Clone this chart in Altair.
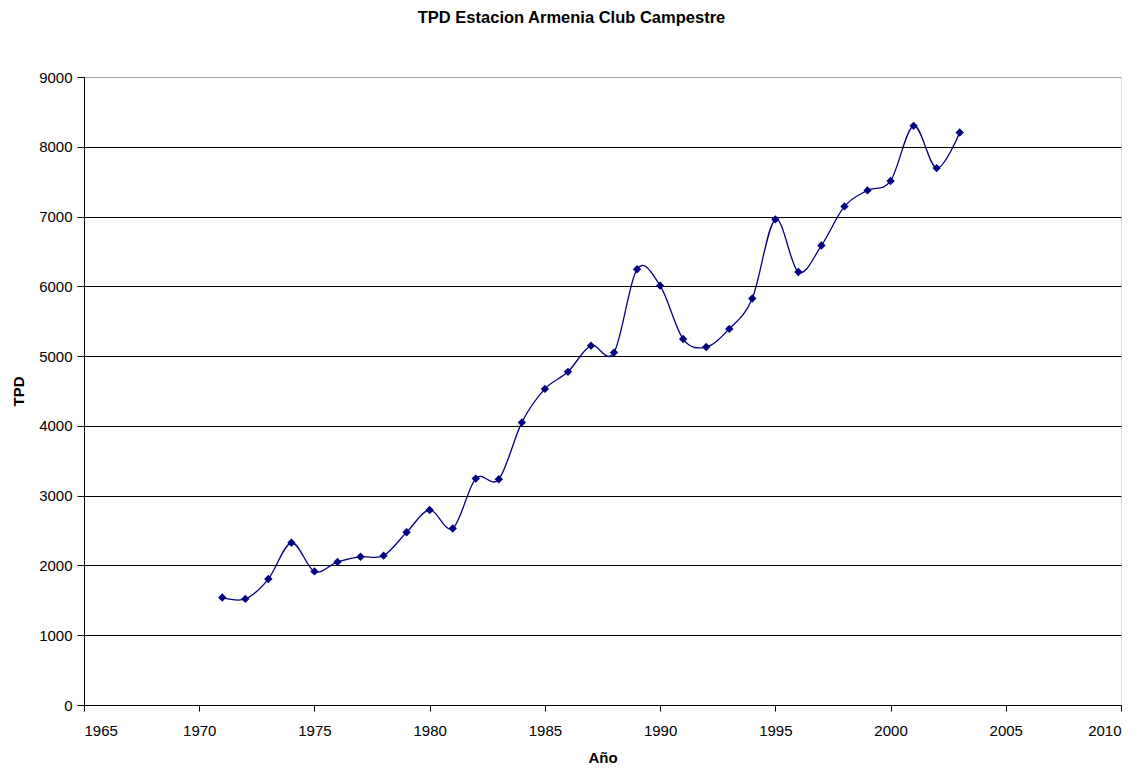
import altair as alt
import pandas as pd

years = list(range(1971, 2004))
tpd = [1540, 1520, 1805, 2325, 1915, 2050, 2125, 2140, 2475, 2795, 2530,
       3245, 3235, 4050, 4530, 4775, 5150, 5050, 6245, 6010, 5245, 5130,
       5390, 5825, 6960, 6205, 6585, 7145, 7375, 7510, 8300, 7695, 8205]

df = pd.DataFrame({"year": years, "tpd": tpd})
FONT = "Liberation Sans"
NAVY = "#000080"

x = alt.X("year:Q", title="Año",
          scale=alt.Scale(domain=[1965, 2010], nice=False, zero=False),
          axis=alt.Axis(values=list(range(1965, 2011, 5)), format="d", grid=False,
                        domainColor="black", tickColor="black", tickSize=6,
                        labelFontSize=15, labelColor="black", labelPadding=12,
                        titleFontSize=15, titleFontWeight="bold", titlePadding=12,
                        labelFont=FONT, titleFont=FONT, titleColor="black"))
y = alt.Y("tpd:Q", title="TPD",
          scale=alt.Scale(domain=[0, 9000], nice=False),
          axis=alt.Axis(values=list(range(0, 9001, 1000)), format="d",
                        gridColor={"condition": {"test": "datum.value == 9000", "value": "#a0a0a0"},
                                   "value": "black"},
                        gridWidth=1, gridOpacity=1,
                        domainColor="black", tickColor="black", tickSize=7,
                        labelFontSize=15, labelColor="black", labelPadding=5,
                        titleFontSize=15, titleFontWeight="bold", titlePadding=12,
                        labelFont=FONT, titleFont=FONT, titleColor="black"))

line = alt.Chart(df).mark_line(color=NAVY, strokeWidth=1.3, interpolate="cardinal", tension=0).encode(x=x, y=y)
pts = alt.Chart(df).mark_point(shape="diamond", filled=True, color=NAVY, opacity=1, size=70).encode(x=x, y=y)

chart = alt.layer(line, pts).properties(
    width=1037, height=628,
    autosize=alt.AutoSizeParams(type="none"),
    padding={"left": 76, "top": 69, "right": 10, "bottom": 64},
    title=alt.TitleParams("TPD Estacion Armenia Club Campestre", font=FONT, fontSize=16.5,
                          fontWeight="bold", color="black", anchor="middle", dx=-31, offset=44),
).configure_view(stroke="#a0a0a0", strokeWidth=1.5).configure(background="white")

chart.save("out.html", embed_options={"renderer": "svg", "actions": False})
